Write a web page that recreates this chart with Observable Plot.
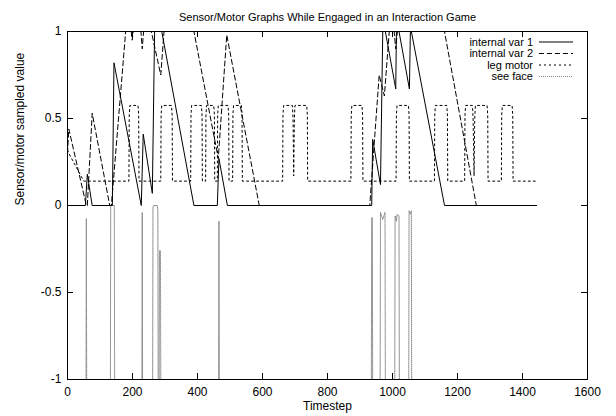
<!DOCTYPE html>
<html><head><meta charset="utf-8">
<script src="https://cdn.jsdelivr.net/npm/d3@7"></script>
<script src="https://cdn.jsdelivr.net/npm/@observablehq/plot@0.6"></script>
<style>body{margin:0;background:#fff} svg{display:block}</style>
</head><body><div id="chart"></div>
<script>
// ---- data ----
const seriesNames = ["internal var 1", "internal var 2", "leg motor", "see face"];
const xTicks = [0, 200, 400, 600, 800, 1000, 1200, 1400, 1600];
const yTicks = [-1, -0.5, 0, 0.5, 1];
const yTickLabels = ["-1", "-0.5", "0", "0.5", "1"];

const internalVar1 = [
  [0,0],[55,0],[61,0.18],[76,0],[138,0],[143,0.82],[227,0],[233,0.41],[261,0.07],[268,1],[290,1],
  [389,0],[461,0],[466,0.27],[492,0],[936,0],[939,0.38],[963,0.12],[970,1],[978,1],[1010,0.67],
  [1012,1],[1020,1],[1052,0.67],[1055,1],[1058,1],[1160,0],[1443,0]
];
const internalVar2 = [
  [0,0.30],[4,0.44],[58,0],[61,0],[76,0.53],[130,0],[135,0],[179,1],[196,1],[199,0.95],[202,1],
  [226,1],[230,0.9],[234,1],[258,1],[287,0.75],[297,1],[389,1],[464,0.27],[490,0.98],[590,0],
  [930,0],[959,0.75],[975,0.63],[990,1],[1005,1],[1010,0.9],[1015,1],[1160,1],[1258,0],[1443,0]
];
const legMotor = [
  [0,0.32],[4,0.30],[50,0.14],
  [189,0.14],[190,0.52],[192,0.575],[217,0.575],[219,0.52],[220,0.14],
  [287,0.14],[288,0.52],[290,0.575],[320,0.575],[322,0.52],[323,0.14],
  [379,0.14],[380,0.52],[382,0.575],[412,0.575],[414,0.52],[415,0.14],
  [425,0.14],[426,0.52],[428,0.575],[450,0.575],[452,0.52],[453,0.14],
  [461,0.14],[462,0.52],[464,0.575],[494,0.575],[496,0.52],[497,0.14],
  [508,0.14],[509,0.52],[511,0.575],[535,0.575],[537,0.52],[538,0.14],
  [662,0.14],[663,0.52],[665,0.575],[692,0.575],[694,0.5],[696,0.17],[698,0.5],[700,0.575],[736,0.575],[738,0.52],[739,0.14],
  [872,0.14],[873,0.52],[875,0.575],[906,0.575],[908,0.52],[909,0.14],
  [1011,0.14],[1012,0.52],[1014,0.575],[1049,0.575],[1051,0.52],[1052,0.14],
  [1129,0.14],[1130,0.52],[1132,0.575],[1167,0.575],[1169,0.52],[1170,0.14],
  [1222,0.14],[1223,0.52],[1225,0.575],[1246,0.575],[1248,0.5],[1251,0.17],[1253,0.5],[1255,0.575],[1291,0.575],[1293,0.52],[1294,0.14],
  [1335,0.14],[1336,0.52],[1338,0.575],[1368,0.575],[1370,0.52],[1371,0.14],
  [1443,0.14]
];
const seeFace = [
  [0,-1],[57,-1],[58,-0.075],[59,-1],
  [132,-1],[133,0],[144,0],[145,-1],
  [229,-1],[230,-0.04],[231,-1],
  [262,-1],[263,-0.01],[265,0],[276,0],[278,-0.03],[279,-1],
  [282,-1],[283,-0.26],[286,-0.26],[287,-1],
  [465,-1],[466,-0.09],[467,-1],
  [935,-1],[936,-0.07],[938,-0.07],[939,-1],
  [962,-1],[963,-0.04],[970,-0.08],[977,-0.04],[978,-1],
  [1007,-1],[1008,-0.06],[1012,-0.09],[1014,-0.05],[1020,-0.06],[1021,-1],
  [1050,-1],[1051,-0.03],[1055,-0.05],[1058,-0.03],[1059,-1],
  [1443,-1]
];

// ---- layout ----
const W = 616, H = 416, mL = 67, mR = 29, mT = 31, mB = 37;
const fw = W - mL - mR, fh = H - mT - mB, tk = 6;
const FONT = "'Liberation Sans', Arial, Helvetica, sans-serif";
const styles = [
  {stroke: "#000", dash: null},
  {stroke: "#000", dash: "5,3"},
  {stroke: "#000", dash: "2,3"},
  {stroke: "#888", dash: "1,1"}
];
const data = [internalVar1, internalVar2, legMotor, seeFace];

const lineMarks = [3, 2, 1, 0].map(i =>
  Plot.line(data[i], {x: d => d[0], y: d => d[1], stroke: styles[i].stroke, strokeWidth: 1,
    strokeDasharray: styles[i].dash, strokeLinejoin: "miter"}));

const plot = Plot.plot({
  width: W, height: H, marginLeft: mL, marginRight: mR, marginTop: mT, marginBottom: mB,
  style: {fontFamily: FONT, fontSize: "12px", background: "#fff", color: "#000", overflow: "visible"},
  x: {domain: [0, 1600]},
  y: {domain: [-1, 1]},
  marks: [
    ...lineMarks,
    Plot.frame({stroke: "#000", strokeWidth: 1}),
    Plot.tickX(xTicks, {x: d => d, insetTop: fh - tk, stroke: "#000"}),
    Plot.tickX(xTicks, {x: d => d, insetBottom: fh - tk, stroke: "#000"}),
    Plot.tickY(yTicks, {y: d => d, insetRight: fw - tk, stroke: "#000"}),
    Plot.tickY(yTicks, {y: d => d, insetLeft: fw - tk, stroke: "#000"}),
    Plot.axisX({ticks: xTicks, tickSize: 0, tickPadding: 8, tickFormat: d => String(d), label: null, fontSize: 12}),
    Plot.axisY({ticks: yTicks, tickSize: 0, tickPadding: 6, tickFormat: d => yTickLabels[yTicks.indexOf(d)], label: null, fontSize: 12}),
    Plot.text(["Timestep"], {text: d => d, frameAnchor: "bottom", dy: 30, fontSize: 12}),
    Plot.text(["Sensor/Motor Graphs While Engaged in an Interaction Game"], {text: d => d, frameAnchor: "top", dy: -18, fontSize: 11}),
    Plot.text(["Sensor/motor sampled value"], {text: d => d, frameAnchor: "left", dx: -47, rotate: -90, fontSize: 12})
  ]
});
document.getElementById("chart").appendChild(plot);

// ---- legend (inside top-right of frame) ----
const svg = d3.select(plot);
const lg = svg.append("g").attr("font-family", FONT).attr("font-size", 11);
seriesNames.forEach((name, i) => {
  const y = mT + 11 + i * 11.5;
  lg.append("text").attr("x", mL + fw - 54).attr("y", y).attr("dy", "0.35em")
    .attr("text-anchor", "end").attr("fill", "#000").text(name);
  lg.append("line").attr("x1", mL + fw - 48).attr("x2", mL + fw - 14).attr("y1", y).attr("y2", y)
    .attr("stroke", styles[i].stroke).attr("stroke-width", 1)
    .attr("stroke-dasharray", styles[i].dash);
});
</script>
</body></html>
